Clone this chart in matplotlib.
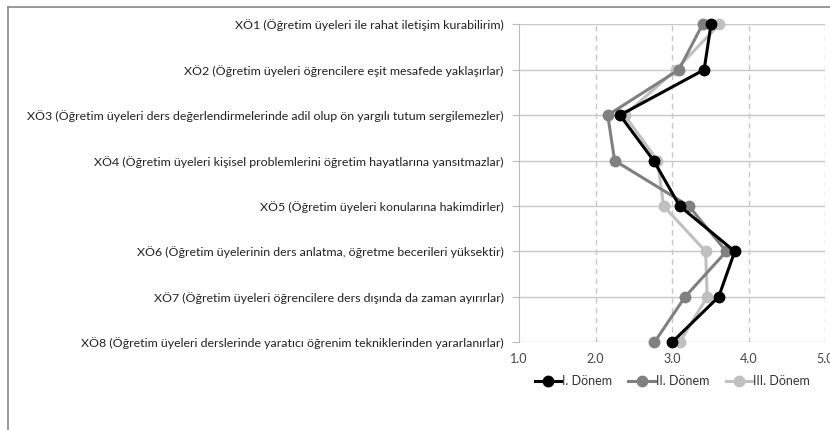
import matplotlib
matplotlib.use("Agg")
import matplotlib.pyplot as plt
from matplotlib.lines import Line2D

plt.rcParams['font.family'] = ['Lato', 'DejaVu Sans']

items = [
    "XÖ1 (Öğretim üyeleri ile rahat iletişim kurabilirim)",
    "XÖ2 (Öğretim üyeleri öğrencilere eşit mesafede yaklaşırlar)",
    "XÖ3 (Öğretim üyeleri ders değerlendirmelerinde adil olup ön yargılı tutum sergilemezler)",
    "XÖ4 (Öğretim üyeleri kişisel problemlerini öğretim hayatlarına yansıtmazlar)",
    "XÖ5 (Öğretim üyeleri konularına hakimdirler)",
    "XÖ6 (Öğretim üyelerinin ders anlatma, öğretme becerileri yüksektir)",
    "XÖ7 (Öğretim üyeleri öğrencilere ders dışında da zaman ayırırlar)",
    "XÖ8 (Öğretim üyeleri derslerinde yaratıcı öğrenim tekniklerinden yararlanırlar)",
]

donem1 = [3.51, 3.42, 2.32, 2.76, 3.10, 3.82, 3.61, 3.00]
donem2 = [3.40, 3.09, 2.16, 2.25, 3.22, 3.71, 3.17, 2.77]
donem3 = [3.62, 3.05, 2.38, 2.81, 2.89, 3.44, 3.46, 3.10]

series = [
    ("I. Dönem", donem1, "#000000"),
    ("II. Dönem", donem2, "#808080"),
    ("III. Dönem", donem3, "#c0c0c0"),
]

fig = plt.figure(figsize=(8.3, 4.3), dpi=100)
ax = fig.add_axes([519 / 830, 1 - 342.3 / 430, 306 / 830, 318 / 430])

ypos = list(range(len(items)))

# grid: solid horizontal at categories, dashed vertical at values
for y in ypos:
    ax.axhline(y, color="#c8c8c8", lw=1, zorder=0)
for x in [2, 3, 4, 5]:
    ax.axvline(x, color="#c8c8c8", lw=1, ls=(0, (4, 3)), zorder=0)

# draw light series first so black is on top
for name, vals, col in series[::-1]:
    ax.plot(vals, ypos, color=col, lw=2.2, marker="o", markersize=7.5,
            label=name, clip_on=False, zorder=3)

ax.set_xlim(1, 5)
ax.set_ylim(len(items) - 1, 0)
ax.set_xticks([1, 2, 3, 4, 5])
ax.set_xticklabels(["1.0", "2.0", "3.0", "4.0", "5.0"], color="#444444", fontsize=9)
ax.set_yticks(ypos)
ax.set_yticklabels(items, fontsize=8.9, color="#222222")
ax.tick_params(axis="x", length=0, pad=8)
ax.tick_params(axis="y", length=5, color="#bbbbbb", pad=6)

for s in ["top", "right", "bottom"]:
    ax.spines[s].set_visible(False)
ax.spines["left"].set_color("#bbbbbb")

handles = [Line2D([], [], color=col, lw=2.2, marker="o", markersize=7.5)
           for _, _, col in series]
fig.legend(handles, [s[0] for s in series], loc="center", ncol=3,
           bbox_to_anchor=(0.81, 1 - 381 / 430), frameon=False,
           fontsize=9, handlelength=2.1, handletextpad=0.1, columnspacing=1.3,
           labelcolor="#333333")

# outer frame (only top and left visible in the crop)
fig.add_artist(Line2D([8 / 830, 1], [1 - 7 / 430, 1 - 7 / 430], color="#888888", lw=1.2))
fig.add_artist(Line2D([8 / 830, 8 / 830], [0, 1 - 7 / 430], color="#888888", lw=1.2))

fig.savefig("out.png", dpi=100)
